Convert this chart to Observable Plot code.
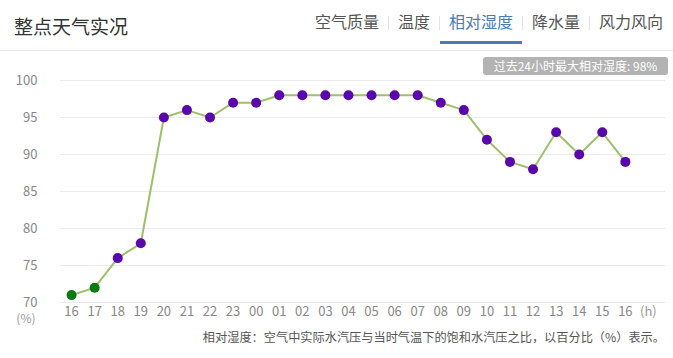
<!DOCTYPE html>
<html><head><meta charset="utf-8">
<script src="https://cdn.jsdelivr.net/npm/d3@7"></script>
<script src="https://cdn.jsdelivr.net/npm/@observablehq/plot@0.6"></script>
<style>
body{margin:0;width:673px;height:358px;position:relative;overflow:hidden;background:#fff;font-family:"Noto Sans CJK SC","Noto Sans",sans-serif;}
#title{position:absolute;left:14px;top:11px;font-size:19px;color:#333;line-height:30px;}
#tabs{position:absolute;right:1px;top:9px;font-size:16px;color:#555;display:flex;align-items:center;line-height:24px;}
#tabs span.t{padding:0 9px;position:relative;}
#tabs span.sep{width:1px;height:14px;background:#e3e3e3;margin-top:4px;}
#tabs span.act{color:#4a7bb5;}
#tabs span.act::after{content:"";position:absolute;left:0;right:0;top:32px;height:3px;background:#4a7bb5;}
#hr{position:absolute;left:0;right:0;top:50px;height:1px;background:#e8e8e8;}
#badge{position:absolute;left:483px;top:57px;width:185px;height:18px;background:#b3b3b3;border-radius:3px;color:#fff;font-size:12px;line-height:18px;text-align:center;}
#chart{position:absolute;left:0;top:64px;}
#caption{position:absolute;right:8px;top:328px;font-size:12.2px;color:#555;line-height:18px;}
</style></head>
<body>
<div id="title">整点天气实况</div>
<div id="tabs"></div>
<div id="hr"></div>
<div id="chart"></div>
<div id="badge"></div>
<div id="caption"></div>
<script>
const tabs = ["空气质量","温度","相对湿度","降水量","风力风向"];
const activeTab = "相对湿度";
const hours = ["16","17","18","19","20","21","22","23","00","01","02","03","04","05","06","07","08","09","10","11","12","13","14","15","16"];
const humidity = [71,72,76,78,95,96,95,97,97,98,98,98,98,98,98,98,97,96,92,89,88,93,90,93,89];
const greenPoints = [0,1];
const yTicks = [70,75,80,85,90,95,100];
const badgeText = "过去24小时最大相对湿度: 98%";
const captionText = "相对湿度：空气中实际水汽压与当时气温下的饱和水汽压之比，以百分比（%）表示。";

const tabsEl = document.getElementById("tabs");
tabs.forEach((t,i)=>{
  if(i>0){const s=document.createElement("span");s.className="sep";tabsEl.appendChild(s);}
  const e=document.createElement("span");e.className="t"+(t===activeTab?" act":"");e.textContent=t;tabsEl.appendChild(e);
});
document.getElementById("badge").textContent = badgeText;
document.getElementById("caption").textContent = captionText;

const data = hours.map((h,i)=>({i, h, v: humidity[i], green: greenPoints.includes(i)}));
const idx = hours.map((_,i)=>i);

const chart = Plot.plot({
  width: 673,
  height: 270,
  marginLeft: 60,
  marginRight: 8,
  marginTop: 16,
  marginBottom: 32,
  style: {fontFamily: '"Noto Sans CJK SC","Noto Sans",sans-serif', fontSize: "13px", color: "#888", background: "transparent"},
  x: {domain: [-0.48, 25.74], axis: null},
  y: {domain: [70, 100], axis: null},
  marks: [
    Plot.ruleY(yTicks, {stroke: "#ebebeb", strokeWidth: 1}),
    Plot.text(yTicks, {y: d=>d, frameAnchor: "left", dx: -23, textAnchor: "end", text: d=>String(d), fill: "#888", fontSize: 13}),
    Plot.text(["(%)"], {y: 70, frameAnchor: "left", dx: -25, dy: 17, textAnchor: "end", text: d=>d, fill: "#999", fontSize: 12}),
    Plot.text(idx, {x: d=>d, frameAnchor: "bottom", dy: 9, text: d=>hours[d], fill: "#888", fontSize: 13, lineAnchor: "middle"}),
    Plot.text(["(h)"], {x: 25, frameAnchor: "bottom", dy: 9, text: d=>d, fill: "#999", fontSize: 13, lineAnchor: "middle"}),
    Plot.line(data, {x: "i", y: "v", stroke: "#9fc06b", strokeWidth: 2}),
    Plot.dot(data, {x: "i", y: "v", r: 5, fill: d=>d.green ? "#0b7a12" : "#5a06ad", stroke: "none"})
  ]
});
document.getElementById("chart").appendChild(chart);
</script>
</body></html>
